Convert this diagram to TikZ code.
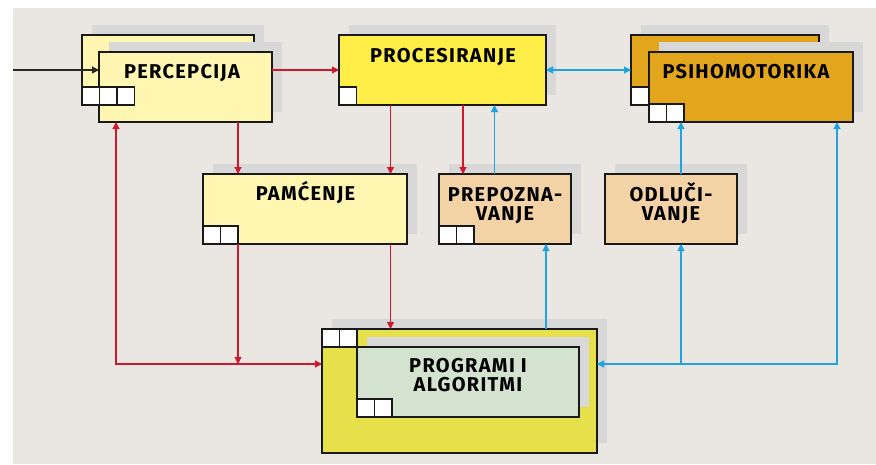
\documentclass[tikz,border=0pt]{standalone}
\usepackage{fontspec}
\newfontfamily\lblfont{Fira Sans}[LetterSpace=6.5]
\usetikzlibrary{arrows.meta}
\definecolor{bgc}{HTML}{EAE7E2}
\definecolor{shadc}{HTML}{D8D8D8}
\definecolor{lightyel}{HTML}{FFF6B2}
\definecolor{brightyel}{HTML}{FFEE48}
\definecolor{ochre}{HTML}{E2A51C}
\definecolor{peach}{HTML}{F3D3A6}
\definecolor{olive}{HTML}{E6E04B}
\definecolor{mint}{HTML}{D3E3CF}
\definecolor{redc}{HTML}{D0172C}
\definecolor{bluec}{HTML}{1FA3DE}
\newcommand\boxnode[6]{%
  \fill[shadc] (#2+10,#3-10) rectangle ++(#4,#5);
  \node[boxst, fill=#6, minimum width=#4pt, minimum height=#5pt] (#1) at (#2,#3) {};}
\newcommand\sqnode[3]{%
  \node[sqst] (#1) at (#2,#3) {};}
\begin{document}
\begin{tikzpicture}[x=1pt,y=-1pt,
  boxst/.style={draw=black!90, line width=1.2pt, inner sep=0pt, outer sep=0pt, anchor=north west},
  sqst/.style={draw=black!90, fill=white, line width=1.1pt, inner sep=0pt, outer sep=0pt, minimum width=17.5pt, minimum height=18pt, anchor=north west},
  lbl/.style={font=\lblfont\bfseries\fontsize{20}{19.5}\selectfont, inner sep=0pt, align=center, anchor=base},
  tip/.tip={Triangle[length=7pt,width=7pt]},
  conn/.style={line width=1.1pt, -tip},
  rd/.style={conn, draw=redc},
  bl/.style={conn, draw=bluec},
  bk/.style={conn, draw=black!85}]
\useasboundingbox (0,0) rectangle (876,464);
\fill[bgc] (13,8) rectangle (876,464);

% boxes
\boxnode{percB}{82}{35}{172}{70}{lightyel}
\boxnode{percF}{99}{52}{173}{70}{lightyel}
\sqnode{percS1}{82}{87}\sqnode{percS2}{99.5}{87}\sqnode{percS3}{117}{87}
\boxnode{proc}{339}{35}{207}{70}{brightyel}
\sqnode{procS1}{339}{87}
\boxnode{psiB}{631}{35}{188}{70}{ochre}
\sqnode{psiBS1}{631}{87}
\boxnode{psiF}{649}{52}{204}{70}{ochre}
\sqnode{psiS1}{649}{104}\sqnode{psiS2}{666.5}{104}
\boxnode{pam}{203}{174}{204}{70}{lightyel}
\sqnode{pamS1}{203}{226}\sqnode{pamS2}{220.5}{226}
\boxnode{prep}{439}{174}{132}{70}{peach}
\sqnode{prepS1}{439}{226}\sqnode{prepS2}{456.5}{226}
\boxnode{odl}{605}{174}{132}{70}{peach}
\boxnode{prog}{322}{329}{275}{124}{olive}
\sqnode{progS1}{322}{329}\sqnode{progS2}{339.5}{329}
\boxnode{algo}{357}{347}{222}{70}{mint}
\sqnode{algoS1}{357}{399}\sqnode{algoS2}{374.5}{399}

% labels (base anchor = baseline of last line)
\node[lbl] (percT) at (182,78) {PERCEPCIJA};
\node[lbl] (procT) at (443,62) {PROCESIRANJE};
\node[lbl] (psiT) at (746,78) {PSIHOMOTORIKA};
\node[lbl] (pamT) at (305.5,200) {PAMĆENJE};
\node[lbl] (prepT) at (505,220.5) {PREPOZNA-\\VANJE};
\node[lbl] (odlT) at (671,220.5) {ODLUČI-\\VANJE};
\node[lbl] (algoT) at (468,391.5) {PROGRAMI I\\ALGORITMI};

% lanes
\coordinate (in) at (13,70);
\coordinate (lL) at (116,0);
\coordinate (lA) at (238,0);
\coordinate (lB) at (390.5,0);
\coordinate (lC) at (463,0);
\coordinate (lD) at (494.5,0);
\coordinate (lE) at (546,0);
\coordinate (lF) at (681,0);
\coordinate (lG) at (837,0);
\coordinate (hY) at (0,364);

% connectors
\draw[bk] (in) -- (in -| percF.west);
\draw[rd] (percF.east |- proc.west) -- (proc.west);
\draw[rd] (percF.south -| lA) -- (pam.north -| lA);
\draw[rd] (proc.south -| lB) -- (pam.north -| lB);
\draw[rd] (proc.south -| lC) -- (prep.north -| lC);
\draw[bl] (prep.north -| lD) -- (proc.south -| lD);
\draw[bl, tip-tip] (proc.east) -- (psiB.west);
\draw[bl] (odl.north -| lF) -- (psiF.south -| lF);
\draw[bl] (prog.north -| lE) -- (prep.south -| lE);
\draw[rd] (pam.south -| lA) -- (lA |- hY);
\draw[rd] (pam.south -| lB) -- (prog.north -| lB);
\draw[rd, tip-tip] (percF.south -| lL) |- (prog.west |- hY);
\draw[bl, tip-tip] (prog.east |- hY) -| (psiF.south -| lG);
\draw[bl] (lF |- hY) -- (odl.south -| lF);
\end{tikzpicture}
\end{document}
